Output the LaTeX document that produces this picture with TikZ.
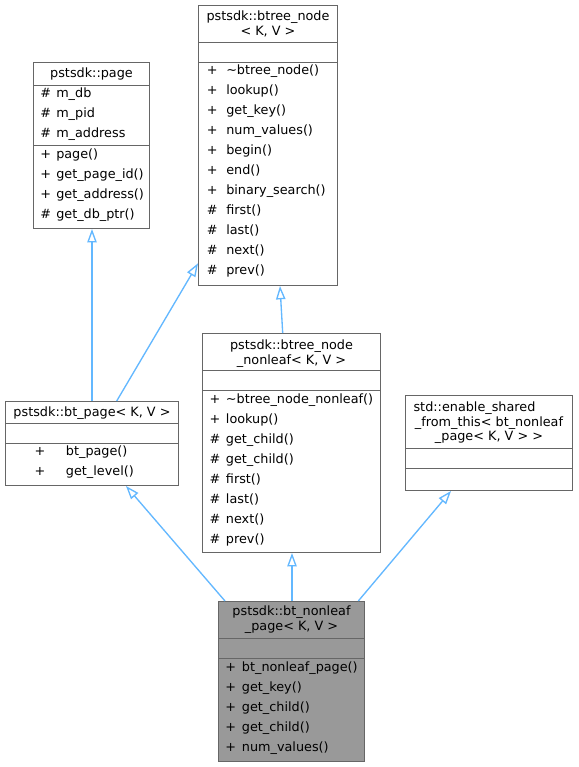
\documentclass[tikz,border=0pt]{standalone}
\usepackage{fontspec}
\setmainfont{DejaVu Sans}
\usetikzlibrary{arrows.meta,fit}

\definecolor{edgeblue}{HTML}{63B8FF}
\definecolor{boxgray}{HTML}{666666}
\definecolor{maingray}{HTML}{999999}

\tikzset{
  cls/.style={draw=boxgray, line width=0.75pt, inner sep=0pt},
  sep/.style={draw=boxgray, line width=0.75pt},
  member/.style={anchor=mid west, inner sep=0pt, font=\fontsize{9.6}{11}\selectfont},
  title/.style={anchor=mid, inner sep=0pt, font=\fontsize{9.6}{11}\selectfont},
  inherit/.style={draw=edgeblue, line width=1pt, -{Triangle[open, length=10pt, width=7pt]}},
}

\begin{document}
\begin{tikzpicture}[x=0.75pt, y=-0.75pt]
  \fill[white] (0,0) rectangle (578,767);
  \useasboundingbox (0,0) rectangle (578,767);

  % class boxes
  \node[cls, fit={(198.5,5.5) (337.5,285.5)}] (bnode) {};
  \node[cls, fit={(33.5,62.5) (149.5,228.5)}] (page) {};
  \node[cls, fit={(5.5,401.5) (178.5,485.5)}] (btpage) {};
  \node[cls, fit={(202.5,333.5) (380.5,552.5)}] (bnl) {};
  \node[cls, fit={(405.5,395.5) (572.5,490.5)}] (enable) {};
  \node[cls, fit={(218.5,601.5) (364.5,761.5)}, fill=maingray] (main) {};

  % compartments
  \draw[sep] (bnode.west |- 0,42.5) -- (bnode.east |- 0,42.5);
  \draw[sep] (bnode.west |- 0,62.5) -- (bnode.east |- 0,62.5);
  \draw[sep] (page.west |- 0,85.5) -- (page.east |- 0,85.5);
  \draw[sep] (page.west |- 0,145.5) -- (page.east |- 0,145.5);
  \draw[sep] (btpage.west |- 0,423.5) -- (btpage.east |- 0,423.5);
  \draw[sep] (btpage.west |- 0,443.5) -- (btpage.east |- 0,443.5);
  \draw[sep] (bnl.west |- 0,370.5) -- (bnl.east |- 0,370.5);
  \draw[sep] (bnl.west |- 0,390.5) -- (bnl.east |- 0,390.5);
  \draw[sep] (enable.west |- 0,448.5) -- (enable.east |- 0,448.5);
  \draw[sep] (enable.west |- 0,468.5) -- (enable.east |- 0,468.5);
  \draw[sep] (main.west |- 0,638.5) -- (main.east |- 0,638.5);
  \draw[sep] (main.west |- 0,658.5) -- (main.east |- 0,658.5);

  % titles
  \node[title] (bnode-n1) at (bnode.north |- 0,16.7) {pstsdk::btree\_node};
  \node[title] (bnode-n2) at (bnode.north |- 0,31.7) {< K, V >};
  \node[title] (page-n1) at (page.north |- 0,74) {pstsdk::page};
  \node[title] (btpage-n1) at (btpage.north |- 0,412.7) {pstsdk::bt\_page< K, V >};
  \node[title] (bnl-n1) at (bnl.north |- 0,345.7) {pstsdk::btree\_node};
  \node[title] (bnl-n2) at (bnl.north |- 0,361) {\_nonleaf< K, V >};
  \node[member] (enable-n1) at (413.3,408.3) {std::enable\_shared};
  \node[title] (enable-n2) at (enable.north |- 0,422.7) {\_from\_this< bt\_nonleaf};
  \node[title] (enable-n3) at (enable.north |- 0,437.3) {\_page< K, V > >};
  \node[title] (main-n1) at (main.north |- 0,611.7) {pstsdk::bt\_nonleaf};
  \node[title] (main-n2) at (main.north |- 0,627.3) {\_page< K, V >};

  % members
  \foreach \v/\t [count=\i] in {+/\textasciitilde btree\_node(), +/lookup(), +/get\_key(),
      +/num\_values(), +/begin(), +/end(), +/binary\_search(), \#/first(), \#/last(),
      \#/next(), \#/prev()}
  {
    \node[member] (bnode-v\i) at (206.7,51+20*\i) {\v};
    \node[member] (bnode-t\i) at (226,51+20*\i) {\t};
  }
  \foreach \v/\t [count=\i] in {\#/m\_db, \#/m\_pid, \#/m\_address}
  {
    \node[member] (page-a\i) at (40,74.3+20*\i) {\v};
    \node[member] (page-b\i) at (56,74.3+20*\i) {\t};
  }
  \foreach \v/\t [count=\i] in {+/page(), +/get\_page\_id(), +/get\_address(), \#/get\_db\_ptr()}
  {
    \node[member] (page-v\i) at (40,135+20*\i) {\v};
    \node[member] (page-t\i) at (56,135+20*\i) {\t};
  }
  \foreach \v/\t [count=\i] in {+/bt\_page(), +/get\_level()}
  {
    \node[member] (btpage-v\i) at (34.3,432.3+20*\i) {\v};
    \node[member] (btpage-t\i) at (65.7,432.3+20*\i) {\t};
  }
  \foreach \v/\t [count=\i] in {+/\textasciitilde btree\_node\_nonleaf(), +/lookup(),
      \#/get\_child(), \#/get\_child(), \#/first(), \#/last(), \#/next(), \#/prev()}
  {
    \node[member] (bnl-v\i) at (209.3,380+20*\i) {\v};
    \node[member] (bnl-t\i) at (225.7,380+20*\i) {\t};
  }
  \foreach \v/\t [count=\i] in {+/bt\_nonleaf\_page(), +/get\_key(), +/get\_child(),
      +/get\_child(), +/num\_values()}
  {
    \node[member] (main-v\i) at (225,647.7+20*\i) {\v};
    \node[member] (main-t\i) at (241.7,647.7+20*\i) {\t};
  }

  % inheritance
  \draw[inherit] (btpage.north -| 92,0) -- (page.south -| 92,0);
  \draw[inherit] (btpage.north -| 116.7,0) -- (bnode.west |- 0,263.3);
  \draw[inherit] (bnl.north -| 282.7,0) -- (bnode.south -| 280,0);
  \draw[inherit] (main.north -| 225,0) -- (btpage.south -| 126,0);
  \draw[inherit] (main.north -| 292,0) -- (bnl.south -| 292,0);
  \draw[inherit] (main.north -| 358.3,0) -- (enable.south -| 451,0);
\end{tikzpicture}
\end{document}
